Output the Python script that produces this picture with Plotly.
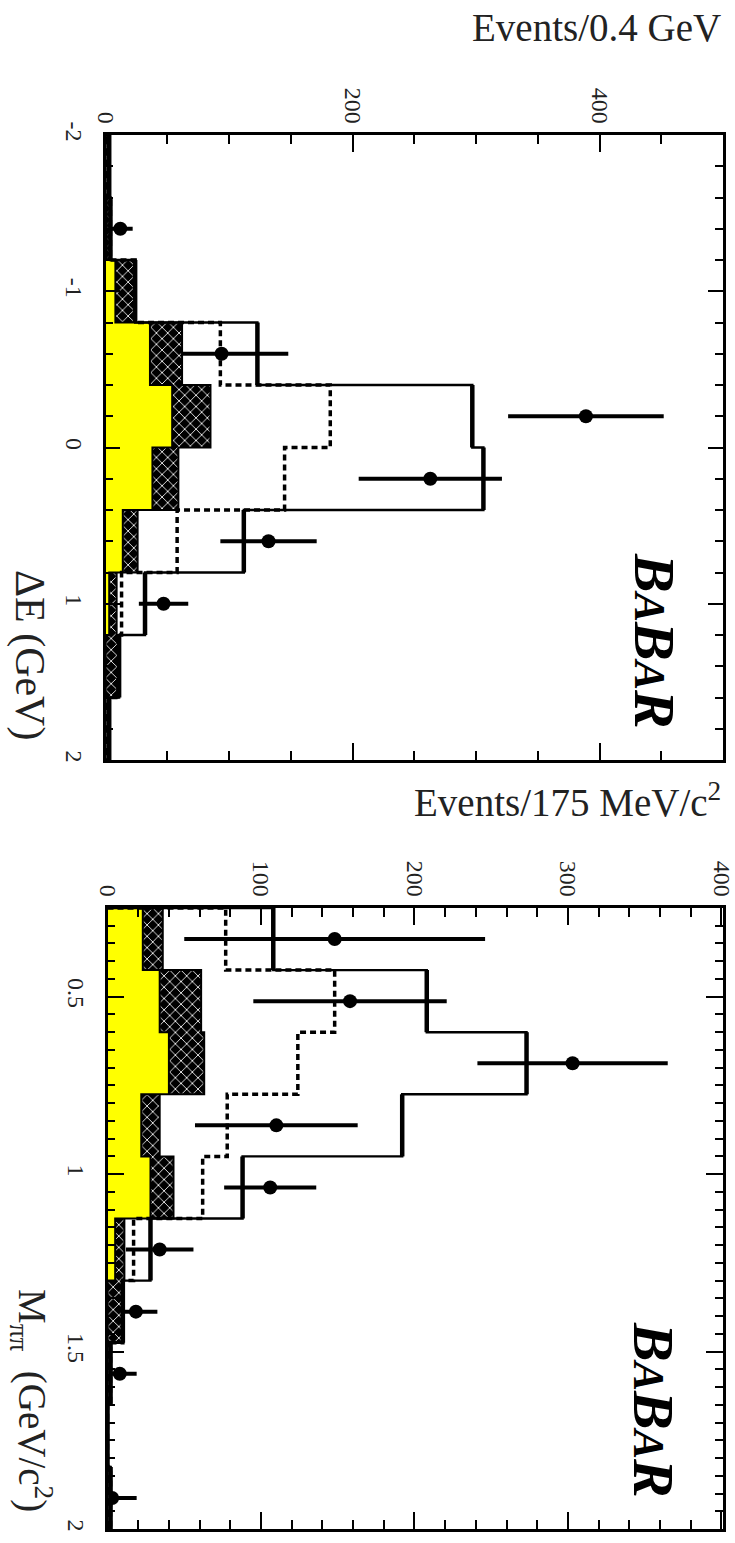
import plotly.graph_objects as go

W, H = 735, 1543

# ---------------- top panel: Delta E ----------------
de_edges = [-2.0, -1.6, -1.2, -0.8, -0.4, 0.0, 0.4, 0.8, 1.2, 1.6, 2.0]
de_yellow = [0, 1, 8, 36, 54, 38, 14, 3, 0, 0]
de_hatch = [3, 4, 24, 62, 85, 59, 26, 9, 10, 3]       # stacked top of hatched component
de_dashed = [3, 4, 24, 93, 182, 145, 58, 13, 10, 3]
de_total = [3, 4, 24, 123, 297, 306, 112, 32, 11, 3]
de_data = [None, 12, None, 94, 389, 263, 132, 47, None, None]
de_err = [0, 10, 0, 54, 63, 58, 39, 20, 0, 0]
de_ticks = [-2, -1, 0, 1, 2]
de_ticktext = ["-2", "-1", "0", "1", "2"]
ev1_ticks = [0, 200, 400]

# ---------------- bottom panel: M_pipi ----------------
m_edges = [0.25, 0.425, 0.6, 0.775, 0.95, 1.125, 1.3, 1.475, 1.65, 1.825, 2.0]
m_yellow = [23, 34, 40, 22, 28, 5, 0, 0, 0, 0]
m_hatch = [36, 61, 63, 34, 43, 11, 10, 2, 0, 2]
m_dashed = [77, 148, 124, 78, 62, 17, 10, 2, 0, 2]
m_total = [108, 208, 273, 192, 88, 28, 10, 2, 0, 2]
m_data = [148, 158, 303, 110, 106, 34, 18.5, 8, None, 3]
m_err = [98, 63, 62, 53, 30, 22, 14, 11, 0, 16]
m_ticks = [0.5, 1, 1.5, 2]
m_ticktext = ["0.5", "1", "1.5", "2"]
ev2_ticks = [0, 100, 200, 300, 400]

FONT = "Liberation Serif"


def step(edges, vals, close=True):
    xs, ys = ([0], [edges[0]]) if close else ([], [])
    for i, v in enumerate(vals):
        xs += [v, v]
        ys += [edges[i], edges[i + 1]]
    if close:
        xs.append(0)
        ys.append(edges[-1])
    return xs, ys


def band(edges, top, bottom):
    xo, yo = step(edges, top, close=False)
    xi, yi = step(edges, bottom, close=False)
    return xo + xi[::-1], yo + yi[::-1]


def verticals(edges, vals):
    xs, ys = [], []
    for i, v in enumerate(vals):
        xs += [v, v, None]
        ys += [edges[i], edges[i + 1], None]
    return xs, ys


fig = go.Figure()


def add_panel(edges, yellow, hatch, dashed, total, data, err, xa, ya):
    centers = [(edges[i] + edges[i + 1]) / 2 for i in range(len(edges) - 1)]
    # data points first (error bars go behind filled components)
    fig.add_trace(go.Scatter(
        x=data, y=centers, mode="markers", xaxis=xa, yaxis=ya,
        marker=dict(color="black", size=14, symbol="circle"),
        error_x=dict(type="data", array=err, thickness=4, width=0, color="black"),
        hoverinfo="skip"))
    xs, ys = step(edges, yellow)
    fig.add_trace(go.Scatter(x=xs, y=ys, fill="toself", fillcolor="#ffff00",
                             line=dict(width=0), mode="lines", xaxis=xa, yaxis=ya,
                             hoverinfo="skip"))
    xs, ys = band(edges, hatch, yellow)
    fig.add_trace(go.Scatter(x=xs, y=ys, fill="toself", fillcolor="black",
                             fillpattern=dict(shape="x", bgcolor="black", fgcolor="white",
                                              size=8, solidity=0.2, fillmode="replace"),
                             line=dict(width=2, color="black"), mode="lines",
                             xaxis=xa, yaxis=ya, hoverinfo="skip"))
    xs, ys = step(edges, dashed)
    fig.add_trace(go.Scatter(x=xs, y=ys, mode="lines", xaxis=xa, yaxis=ya,
                             line=dict(color="black", width=3.5, dash="6px,4px"),
                             hoverinfo="skip"))
    xs, ys = step(edges, total)
    fig.add_trace(go.Scatter(x=xs, y=ys, mode="lines", xaxis=xa, yaxis=ya,
                             line=dict(color="black", width=2.4),
                             hoverinfo="skip"))
    xs, ys = verticals(edges, total)
    fig.add_trace(go.Scatter(x=xs, y=ys, mode="lines", xaxis=xa, yaxis=ya,
                             line=dict(color="black", width=4.5),
                             hoverinfo="skip", connectgaps=False))


add_panel(de_edges, de_yellow, de_hatch, de_dashed, de_total, de_data, de_err, "x", "y")
add_panel(m_edges, m_yellow, m_hatch, m_dashed, m_total, m_data, m_err, "x2", "y2")


def px(x):
    return x / W


def py(y):
    return 1 - y / H


common_axis = dict(showline=True, linecolor="black", linewidth=2.5, mirror="ticks",
                   ticks="inside", tickcolor="black", tickwidth=1.8, showgrid=False,
                   zeroline=False, automargin=False,
                   tickfont=dict(family=FONT, size=24, color="#222"),
                   fixedrange=True)

fig.update_layout(
    template="none",
    width=W, height=H, margin=dict(l=0, r=0, t=0, b=0, pad=0, autoexpand=False),
    paper_bgcolor="white", plot_bgcolor="white", showlegend=False,
    xaxis=dict(domain=[px(105.5), px(723)], anchor="y", side="top", range=[0, 500],
               tickmode="array", tickvals=ev1_ticks, ticktext=[str(t) for t in ev1_ticks],
               tickangle=90, ticklen=17,
               minor=dict(tickmode="linear", tick0=0, dtick=50, ticks="inside", ticklen=9,
                          tickcolor="black", tickwidth=1.5),
               **common_axis),
    yaxis=dict(domain=[py(760), py(135)], anchor="x", range=[2, -2],
               tickmode="array", tickvals=de_ticks, ticktext=de_ticktext,
               tickangle=90, ticklen=15, ticklabelstandoff=8,
               minor=dict(tickmode="linear", tick0=-2, dtick=0.2, ticks="inside", ticklen=8,
                          tickcolor="black", tickwidth=1.5),
               **common_axis),
    xaxis2=dict(domain=[px(107.5), px(723)], anchor="y2", side="top", range=[0, 401],
                tickmode="array", tickvals=ev2_ticks, ticktext=[str(t) for t in ev2_ticks],
                tickangle=90, ticklen=17,
                minor=dict(tickmode="linear", tick0=0, dtick=20, ticks="inside", ticklen=9,
                           tickcolor="black", tickwidth=1.5),
                **common_axis),
    yaxis2=dict(domain=[py(1529), py(908)], anchor="x2", range=[2.0, 0.25],
                tickmode="array", tickvals=m_ticks, ticktext=m_ticktext,
                tickangle=90, ticklen=17, ticklabelstandoff=8,
                minor=dict(tickmode="linear", tick0=0.25, dtick=0.05, ticks="inside", ticklen=8,
                           tickcolor="black", tickwidth=1.5),
                **common_axis),
)

title_font = dict(family=FONT, size=39, color="#222")
babar = ("<b><i>B<span style='font-size:44px'>A</span>B"
         "<span style='font-size:44px'>A</span>R</i></b>")
annotations = [
    dict(text="Events/0.4 GeV", x=px(723), y=py(27), xanchor="right", yanchor="middle",
         font=title_font),
    dict(text="Events/175 MeV/c<sup>2</sup>", x=px(723), y=py(800), xanchor="right",
         yanchor="middle", font=title_font),
    dict(text="ΔE (GeV)", x=px(30), y=py(655), textangle=90, xanchor="center",
         yanchor="middle", font=dict(family=FONT, size=42, color="#222")),
    dict(text="M<sub>ππ</sub>  (GeV/c<sup>2</sup>)", x=px(32), y=py(1400), textangle=90,
         xanchor="center", yanchor="middle", font=title_font),
    dict(text=babar, x=px(654), y=py(641), textangle=90, xanchor="center",
         yanchor="middle", font=dict(family=FONT, size=58, color="black")),
    dict(text=babar, x=px(654), y=py(1410), textangle=90, xanchor="center",
         yanchor="middle", font=dict(family=FONT, size=58, color="black")),
]
for a in annotations:
    a.update(xref="paper", yref="paper", showarrow=False)
fig.update_layout(annotations=annotations)

fig.write_html("out.html")
